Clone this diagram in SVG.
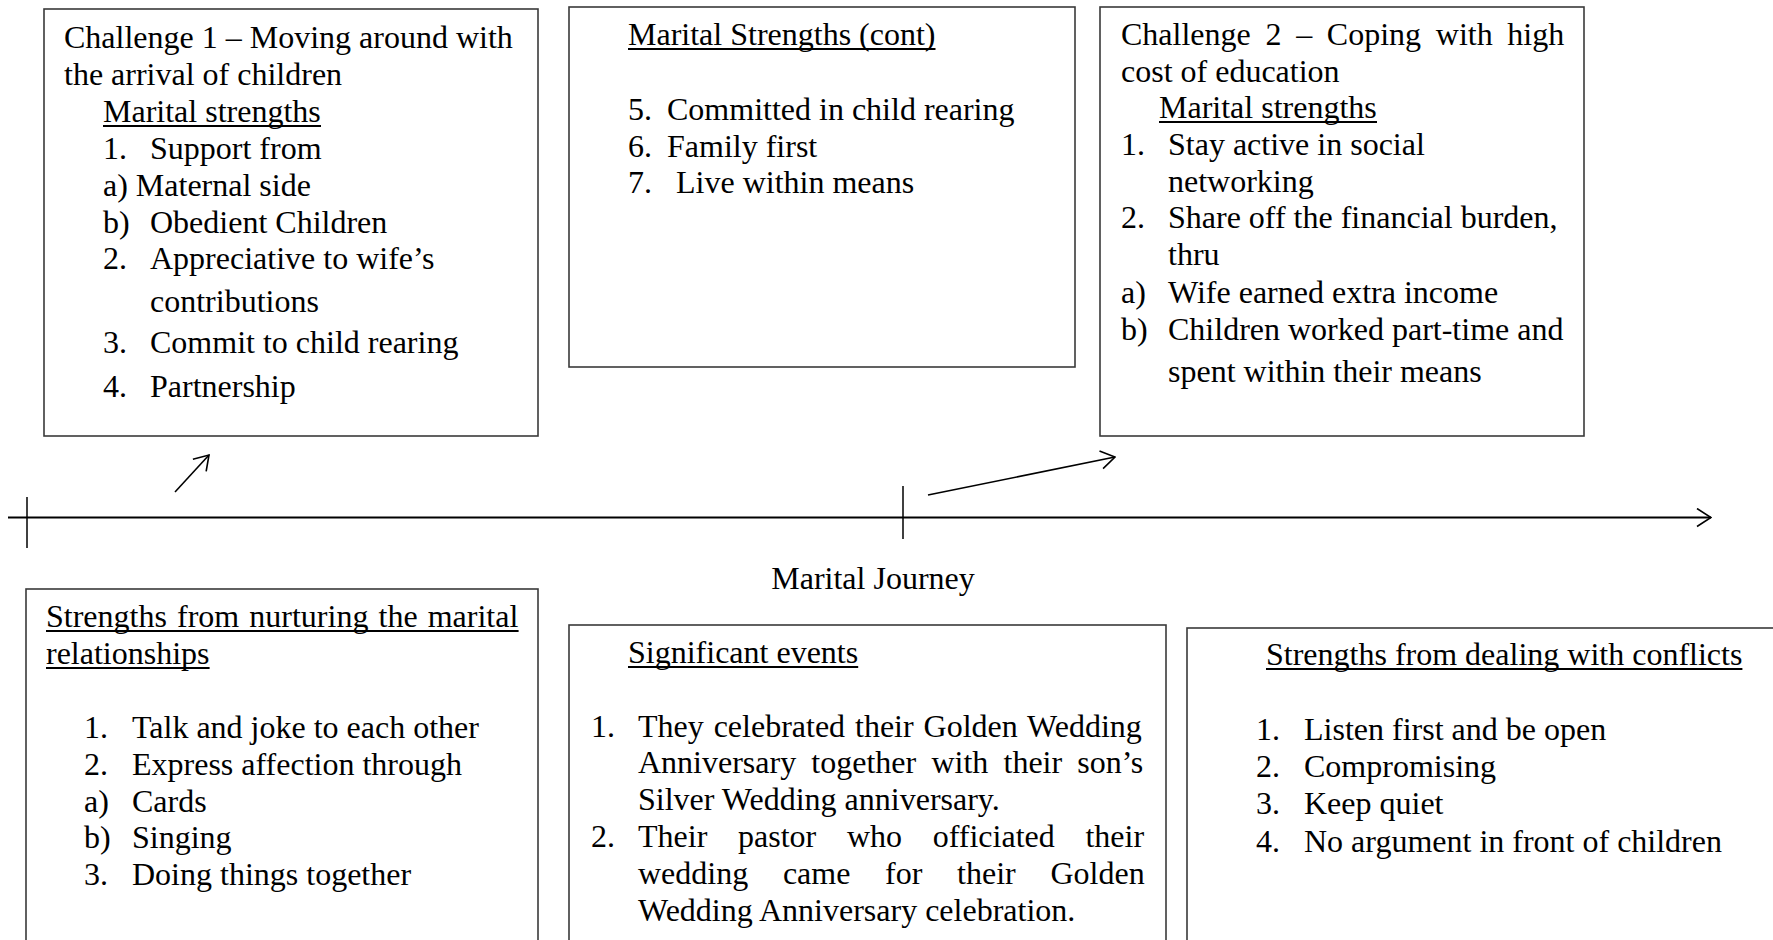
<svg xmlns="http://www.w3.org/2000/svg" width="1773" height="940" viewBox="0 0 1773 940">
  <style>
    text { font-family: "Liberation Serif", "Times New Roman", serif; font-size: 32px; fill: #000; }
    .ul { stroke: #000; stroke-width: 2; }
    .box { fill: #fff; stroke: #3a3a3a; stroke-width: 1.6; }
    .axis { stroke: #000; stroke-width: 2.2; fill: none; }
    .tick { stroke: #000; stroke-width: 1.5; fill: none; }
    .conn { stroke: #000; stroke-width: 1.6; fill: none; }
  </style>
  <defs>
    <marker id="open" viewBox="0 0 16 20" refX="15" refY="10" markerWidth="16" markerHeight="20" markerUnits="userSpaceOnUse" orient="auto">
      <path d="M1,1 L15,10 L1,19" fill="none" stroke="#000" stroke-width="1.6"/>
    </marker>
  </defs>
  <rect width="1773" height="940" fill="#fff"/>

  <!-- timeline and arrows -->
  <g id="connectors">
    <line class="axis" x1="8" y1="517.5" x2="1711" y2="517.5" marker-end="url(#open)"/>
    <line class="tick" x1="27" y1="497" x2="27" y2="548"/>
    <line class="tick" x1="903" y1="486" x2="903" y2="539"/>
    <line class="conn" x1="175" y1="492" x2="209" y2="455" marker-end="url(#open)"/>
    <line class="conn" x1="928" y1="495" x2="1115" y2="457" marker-end="url(#open)"/>
  </g>

  <g id="journey-label">
    <text x="873" y="589" text-anchor="middle">Marital Journey</text>
  </g>

  <!-- Challenge 1 -->
  <g id="challenge1">
    <rect class="box" x="44" y="9" width="494" height="427"/>
    <text x="64" y="48">Challenge 1 – Moving around with</text>
    <text x="64" y="85">the arrival of children</text>
    <text x="103" y="122">Marital strengths</text>
    <line class="ul" x1="103" y1="126" x2="321" y2="126"/>
    <text x="103" y="159">1.</text><text x="150" y="159">Support from</text>
    <text x="103" y="196">a) Maternal side</text>
    <text x="103" y="233">b)</text><text x="150" y="233">Obedient Children</text>
    <text x="103" y="269">2.</text><text x="150" y="269">Appreciative to wife’s</text>
    <text x="150" y="312">contributions</text>
    <text x="103" y="353">3.</text><text x="150" y="353">Commit to child rearing</text>
    <text x="103" y="397">4.</text><text x="150" y="397">Partnership</text>
  </g>

  <!-- Marital strengths continued -->
  <g id="strengths-cont">
    <rect class="box" x="569" y="7" width="506" height="360"/>
    <text x="628" y="45">Marital Strengths (cont)</text>
    <line class="ul" x1="628" y1="49" x2="935.5" y2="49"/>
    <text x="628" y="120">5.</text><text x="667" y="120">Committed in child rearing</text>
    <text x="628" y="157">6.</text><text x="667" y="157">Family first</text>
    <text x="628" y="193">7.</text><text x="676" y="193">Live within means</text>
  </g>

  <!-- Challenge 2 -->
  <g id="challenge2">
    <rect class="box" x="1100" y="7" width="484" height="429"/>
    <text x="1121" y="45" word-spacing="6.7">Challenge 2 – Coping with high</text>
    <text x="1121" y="82">cost of education</text>
    <text x="1159" y="118">Marital strengths</text>
    <line class="ul" x1="1159" y1="122" x2="1377" y2="122"/>
    <text x="1121" y="155">1.</text><text x="1168" y="155">Stay active in social</text>
    <text x="1168" y="192">networking</text>
    <text x="1121" y="228">2.</text><text x="1168" y="228">Share off the financial burden,</text>
    <text x="1168" y="265">thru</text>
    <text x="1121" y="303">a)</text><text x="1168" y="303">Wife earned extra income</text>
    <text x="1121" y="340">b)</text><text x="1168" y="340">Children worked part-time and</text>
    <text x="1168" y="382">spent within their means</text>
  </g>

  <!-- Nurturing strengths -->
  <g id="nurturing">
    <rect class="box" x="26" y="589" width="512" height="400"/>
    <text x="46" y="627" word-spacing="2.1">Strengths from nurturing the marital</text>
    <line class="ul" x1="46" y1="631" x2="518.6" y2="631"/>
    <text x="46" y="664">relationships</text>
    <line class="ul" x1="46" y1="668" x2="209.6" y2="668"/>
    <text x="84" y="738">1.</text><text x="132" y="738">Talk and joke to each other</text>
    <text x="84" y="775">2.</text><text x="132" y="775">Express affection through</text>
    <text x="84" y="812">a)</text><text x="132" y="812">Cards</text>
    <text x="84" y="848">b)</text><text x="132" y="848">Singing</text>
    <text x="84" y="885">3.</text><text x="132" y="885">Doing things together</text>
  </g>

  <!-- Significant events -->
  <g id="events">
    <rect class="box" x="569" y="625" width="597" height="400"/>
    <text x="628" y="663">Significant events</text>
    <line class="ul" x1="628" y1="667" x2="858.2" y2="667"/>
    <text x="591" y="737">1.</text>
    <text x="638" y="737" word-spacing="1.9">They celebrated their Golden Wedding</text>
    <text x="638" y="773" word-spacing="7.2">Anniversary together with their son’s</text>
    <text x="638" y="810">Silver Wedding anniversary.</text>
    <text x="591" y="847">2.</text>
    <text x="638" y="847" word-spacing="22.7">Their pastor who officiated their</text>
    <text x="638" y="884" word-spacing="26.7">wedding came for their Golden</text>
    <text x="638" y="921">Wedding Anniversary celebration.</text>
  </g>

  <!-- Conflict strengths -->
  <g id="conflicts">
    <rect class="box" x="1187" y="628" width="640" height="400"/>
    <text x="1266" y="665">Strengths from dealing with conflicts</text>
    <line class="ul" x1="1266" y1="669" x2="1742.4" y2="669"/>
    <text x="1256" y="740">1.</text><text x="1304" y="740">Listen first and be open</text>
    <text x="1256" y="777">2.</text><text x="1304" y="777">Compromising</text>
    <text x="1256" y="814">3.</text><text x="1304" y="814">Keep quiet</text>
    <text x="1256" y="852">4.</text><text x="1304" y="852">No argument in front of children</text>
  </g>
</svg>
